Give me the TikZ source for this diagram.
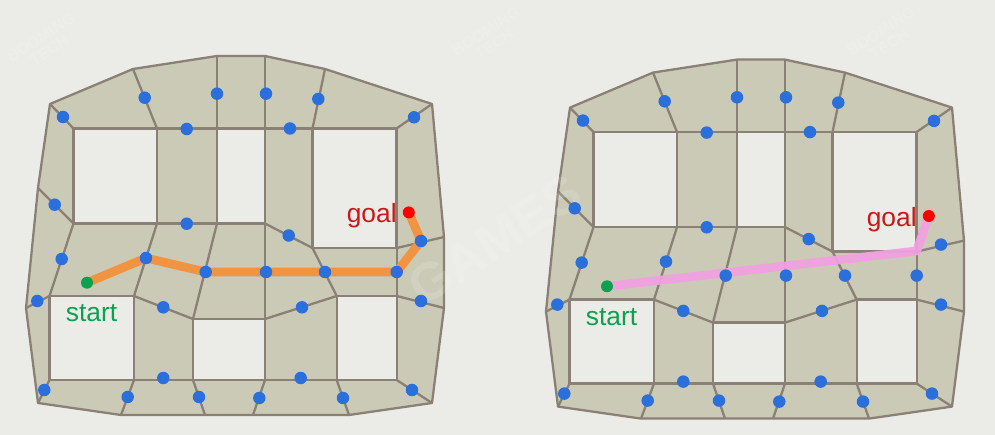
\documentclass[tikz,border=0pt]{standalone}
\usepackage{fontspec}
\setmainfont{Liberation Sans}
\usetikzlibrary{positioning}
\pgfdeclarelayer{mesh}
\pgfdeclarelayer{route}
\pgfsetlayers{mesh,route,main}
\definecolor{paper}{HTML}{EBEBE7}
\definecolor{cell}{HTML}{CBCAB6}
\definecolor{edge}{HTML}{8A8076}
\definecolor{portal}{HTML}{2A6FDB}
\definecolor{startgreen}{HTML}{0BA14E}
\definecolor{goalred}{HTML}{C81818}
\definecolor{orangeroute}{HTML}{F09442}
\definecolor{pinkroute}{HTML}{F2A0E2}
\begin{document}
\begin{tikzpicture}[
    x=0.02cm, y=-0.02cm,
    wall/.style={draw=edge, line width=1.3pt, line join=round},
    hole/.style={wall, fill=paper},
    dot/.style={circle, fill=portal, inner sep=0pt, minimum size=0.25cm},
    endpoint/.style={circle, inner sep=0pt, minimum size=0.24cm},
    label/.style={inner sep=0pt, font=\fontsize{15}{15}\selectfont},
    route/.style={line width=5pt, line join=round},
    faint/.style={text=white, text opacity=0.15, rotate=33, align=center, font=\bfseries\fontsize{#1}{#1}\selectfont}
  ]
  \useasboundingbox (0,0) rectangle (995,435);
  \begin{pgfonlayer}{mesh}
    \fill[paper] (0,0) rectangle (995,435);
  \end{pgfonlayer}

  \foreach \pre/\dx/\dy in {l/0/0, r/520/3.6} {
    \begin{scope}[shift={(\dx,\dy)}]
      % Outline and cell walls
      \begin{pgfonlayer}{mesh}
        \draw[wall, fill=cell] (50,104) -- (133,69) -- (217,56) -- (265,56) -- (325,69) -- (432,104)
          -- (444,237) -- (444,308) -- (432,403) -- (349,415) -- (253,415) -- (205,415)
          -- (121,415) -- (38,403) -- (26,308) -- (38,188) -- cycle;
        \foreach \ax/\ay/\bx/\by in {50/104/73.5/128.5, 133/69/157/128.5, 217/56/217/128.5,
            265/56/265/128.5, 325/69/312.5/128.5, 432/104/396.5/128.5, 38/188/73.5/223.5,
            26/308/49.5/296, 38/403/49.5/380, 121/415/134/380, 205/415/193/380, 253/415/265/380,
            349/415/336.7/380, 432/403/396.7/380, 444/308/396.7/296, 444/237/396.7/248,
            73.5/223.5/49.5/296, 157/223.5/134/296, 134/296/193/319, 217/223.5/193/319,
            265/223.5/312.5/248, 312.5/248/336.7/296, 265/319/336.7/296, 265/223.5/265/319,
            157/128.5/217/128.5, 265/128.5/312.5/128.5, 157/223.5/217/223.5, 134/380/193/380,
            265/380/336.7/380, 396.7/248/396.7/296}
          \draw[wall] (\ax,\ay) -- (\bx,\by);
        % White rooms
        \draw[hole] (73.5,128.5) rectangle (157,223.5);
        \draw[hole] (217,128.5) rectangle (265,223.5);
        \draw[hole] (312.5,128.5) rectangle (396.5,248);
        \draw[hole] (49.5,296) rectangle (134,380);
        \draw[hole] (193,319) rectangle (265,380);
        \draw[hole] (336.7,296) rectangle (396.7,380);
      \end{pgfonlayer}

      % Portals
      \foreach \i/\x/\y in {1/63/117, 2/144.7/97.7, 3/217/93.7, 4/186.7/129, 5/54.7/204.7,
          6/186.7/223.7, 7/266/93.7, 8/318.3/99, 9/290/128.5, 10/414/117.3, 11/288.7/235.5,
          12/61.7/259, 13/146/258, 14/205.7/272, 15/37.3/301, 16/163.3/307.3, 17/163.3/378,
          18/44.3/390, 19/127.7/397, 20/199/397, 21/266/272, 22/325/272, 23/396.7/272,
          24/421/241, 25/421/301, 26/302/307.3, 27/300.7/378, 28/259.3/398, 29/343/398, 30/412/390}
        \node[dot] (\pre-p\i) at (\x,\y) {};

      % Start and goal
      \node[endpoint, fill=startgreen] (\pre-start) at (87,282.7) {};
      \node[endpoint, fill=red] (\pre-goal) at (408.8,212.4) {};
      \node[label, text=startgreen, anchor=base] (\pre-startlabel) at (91.5,322) {start};
      \node[label, text=goalred, anchor=base east] (\pre-goallabel) at (397,223) {goal};
    \end{scope}
  }

  % Routes
  \begin{pgfonlayer}{route}
    \node[faint=9] (mark1) at (490,38) {BOOMING\\TECH};
    \node[faint=9] (mark2) at (885,38) {BOOMING\\TECH};
    \node[faint=9] (mark3) at (45,44) {BOOMING\\TECH};
    \node[faint=30] (mark4) at (495,240) {GAMES};
    \draw[route, draw=orangeroute] (l-start.center) -- (l-p13.center) -- (l-p14.center) -- (l-p21.center)
      -- (l-p22.center) -- (l-p23.center) -- (l-p24.center) -- (l-goal.center);
    \coordinate (r-turn) at (916.7,251);
    \draw[route, draw=pinkroute, draw opacity=0.92] (r-start.center) -- (r-turn) -- (r-goal.center);
  \end{pgfonlayer}
\end{tikzpicture}
\end{document}
